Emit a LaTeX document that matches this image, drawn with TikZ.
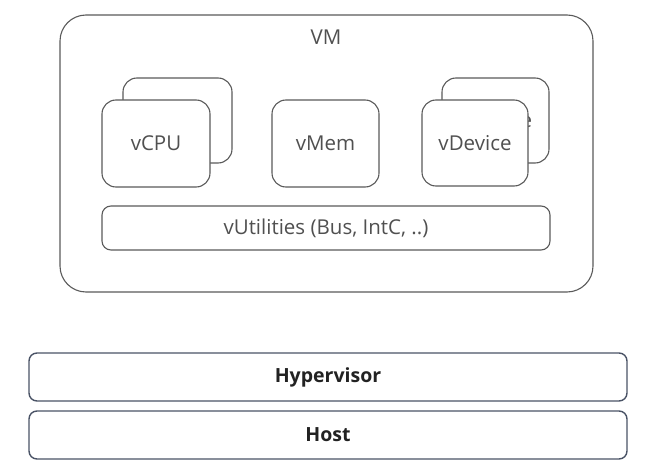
\documentclass[tikz,border=0pt]{standalone}
\usepackage{fontspec}
\setmainfont{Open Sans}
\definecolor{boxgray}{HTML}{5A5A5A}
\definecolor{txtgray}{HTML}{505050}
\definecolor{slate}{HTML}{4A5366}
\definecolor{dark}{HTML}{222222}
\begin{document}
\begin{tikzpicture}[x=1pt,y=-1pt,
  vbox/.style={draw=boxgray, line width=1.1pt, fill=white, rounded corners=14pt,
    text=txtgray, font=\fontsize{20.5}{24}\selectfont, inner sep=0pt},
  vmbox/.style={vbox, rounded corners=26pt},
  hbox/.style={draw=slate, line width=1.4pt, fill=white, rounded corners=8pt,
    text=dark, font=\fontsize{19.5}{23}\selectfont\bfseries, inner sep=0pt}]
\useasboundingbox (0,0) rectangle (661,468);
\node[vmbox, minimum width=533pt, minimum height=277pt] (vm) at (326.5,153.5) {};
\node[text=txtgray, font=\fontsize{20.5}{24}\selectfont] (vmlabel) at (326,37) {VM};
\node[vbox, minimum width=109pt, minimum height=85pt] (cpuback) at (177.5,120.5) {vCPU};
\node[vbox, minimum width=108pt, minimum height=87pt] (cpu) at (156,143.5) {vCPU};
\node[vbox, minimum width=107pt, minimum height=87pt] (mem) at (325.5,143.5) {vMem};
\node[vbox, minimum width=107pt, minimum height=85pt] (devback) at (495.5,120.5) {vDevice};
\node[vbox, minimum width=106pt, minimum height=86pt] (dev) at (475,143) {vDevice};
\node[vbox, rounded corners=9pt, minimum width=448pt, minimum height=44pt] (util) at (326,228) {vUtilities (Bus, IntC, ..)};
\node[hbox, minimum width=598pt, minimum height=48pt] (hyp) at (328,377) {Hypervisor};
\node[hbox, minimum width=598pt, minimum height=48pt] (host) at (328,435) {Host};
\end{tikzpicture}
\end{document}
